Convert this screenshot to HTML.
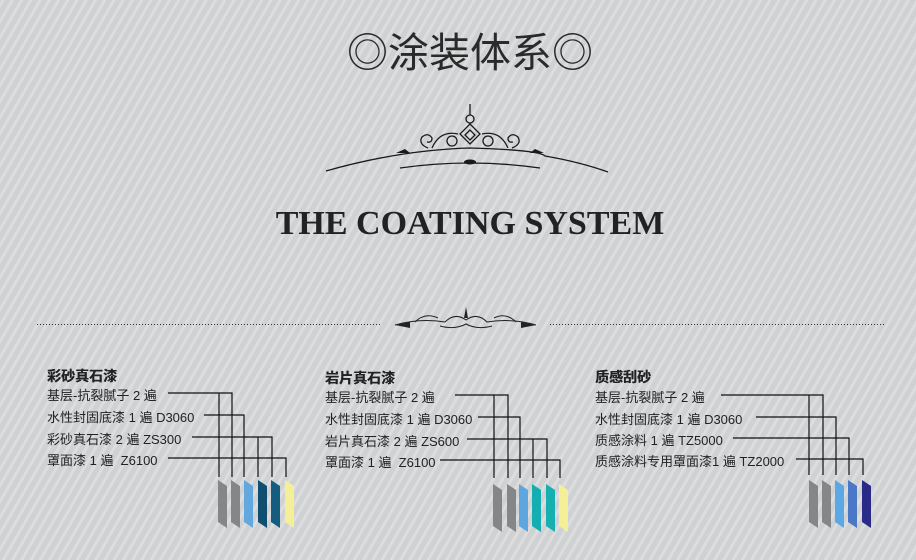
<!DOCTYPE html>
<html><head><meta charset="utf-8"><style>
html,body{margin:0;padding:0}
body{width:916px;height:560px;overflow:hidden;position:relative;
background:#d3d4d6 repeating-linear-gradient(-60deg,#d0d1d3 0px,#d0d1d3 5px,#dcdddf 5px,#dcdddf 8px);
font-family:"Liberation Sans","Noto Sans CJK SC",sans-serif;color:#222}
.t{position:absolute;white-space:nowrap}
.h{font-size:14px;font-weight:bold;text-shadow:0.4px 0 0 #222}
.r{font-size:13px}
</style></head><body>
<div class="t" style="left:12px;width:916px;text-align:center;top:19px;font-size:41px;color:#2a2a2a;font-family:'Liberation Sans','Noto Sans CJK SC',sans-serif;">◎涂装体系◎</div>
<div class="t" style="left:12px;width:916px;text-align:center;top:205px;font-size:34px;font-weight:bold;color:#222;font-family:'Liberation Serif',serif;">THE COATING SYSTEM</div>

<svg width="916" height="560" style="position:absolute;left:0;top:0">
<g fill="none" stroke="#1a1a1a" stroke-width="1.3">
<path d="M326 171 Q400 150 470 148 Q540 150 545 156 Q580 162 608 172"/>
<path d="M400 168 Q470 158 540 168"/>
<circle cx="470" cy="119" r="4"/>
<path d="M470 104 V115"/>
<path d="M470 124 L460 134 L470 144 L480 134 Z"/>
<path d="M470 130 L465 135 L470 140 L475 135 Z"/>
<path d="M428 148 Q418 144 422 137 Q428 132 432 138 Q432 143 427 142"/>
<path d="M512 148 Q522 144 518 137 Q512 132 508 138 Q508 143 513 142"/>
<path d="M432 148 Q440 130 458 134"/>
<path d="M508 148 Q500 130 482 134"/>
<circle cx="452" cy="141" r="5"/><circle cx="488" cy="141" r="5"/>
</g>
<ellipse cx="470" cy="162" rx="6" ry="2.5" fill="#1a1a1a"/>
<path d="M396 153 L405 149 L410 153 Z M544 153 L535 149 L530 153 Z" fill="#1a1a1a"/>

<line x1="37" y1="324.5" x2="381" y2="324.5" stroke="#333" stroke-dasharray="1,2"/>
<line x1="550" y1="324.5" x2="885" y2="324.5" stroke="#333" stroke-dasharray="1,2"/>
<g fill="none" stroke="#222" stroke-width="1">
<path d="M395 325 Q420 318 445 322 Q455 312 466 320 Q477 312 487 322 Q512 318 536 325"/>
<path d="M415 322 Q425 312 438 318 M516 322 Q506 312 494 318 M440 326 Q455 330 466 324 Q477 330 492 326"/>
</g>
<path d="M466 307 L464 318 L468 318 Z M395 325 L410 322 L410 328 Z M536 325 L521 322 L521 328 Z" fill="#222"/>

<g stroke="#111" stroke-width="1.2" fill="none">
<path d="M168 393 H232 V477 M219 393 V477"/>
<path d="M204 415 H244 V477"/>
<path d="M192 437 H272 V477 M258 437 V477"/>
<path d="M168 458 H286 V477"/>
<path d="M455 395 H508 V478 M494 395 V478"/>
<path d="M478 417 H520 V478"/>
<path d="M467 439 H547 V478 M533 439 V478"/>
<path d="M440 460 H560 V478"/>
<path d="M721 395 H823 V475 M809 395 V475"/>
<path d="M756 417 H836 V475"/>
<path d="M733 438 H849 V475"/>
<path d="M796 459 H863 V475"/>
</g>
<g>
<polygon points="218,480 227,486 227,528 218,522" fill="#858688"/>
<polygon points="231,480 240,486 240,528 231,522" fill="#858688"/>
<polygon points="244,480 253,486 253,528 244,522" fill="#62a8de"/>
<polygon points="258,480 267,486 267,528 258,522" fill="#104f70"/>
<polygon points="271,480 280,486 280,528 271,522" fill="#145d80"/>
<polygon points="285,480 294,486 294,528 285,522" fill="#f5ef98"/>

<polygon points="493,484 502,490 502,532 493,526" fill="#858688"/>
<polygon points="507,484 516,490 516,532 507,526" fill="#858688"/>
<polygon points="519,484 528,490 528,532 519,526" fill="#5da6e0"/>
<polygon points="532,484 541,490 541,532 532,526" fill="#12aeb2"/>
<polygon points="546,484 555,490 555,532 546,526" fill="#16b0b0"/>
<polygon points="559,484 568,490 568,532 559,526" fill="#f5ef98"/>

<polygon points="809,480 818,486 818,528 809,522" fill="#858688"/>
<polygon points="822,480 831,486 831,528 822,522" fill="#858688"/>
<polygon points="835,480 844,486 844,528 835,522" fill="#5aa8e6"/>
<polygon points="848,480 857,486 857,528 848,522" fill="#4a78c6"/>
<polygon points="862,480 871,486 871,528 862,522" fill="#2a2a88"/>
</g>
</svg>

<div class="t h" style="left:47px;top:366px">彩砂真石漆</div>
<div class="t r" style="left:47px;top:385px">基层-抗裂腻子 2 遍</div>
<div class="t r" style="left:47px;top:407px">水性封固底漆 1 遍 D3060</div>
<div class="t r" style="left:47px;top:429px">彩砂真石漆 2 遍 ZS300</div>
<div class="t r" style="left:47px;top:450px">罩面漆 1 遍&nbsp; Z6100</div>

<div class="t h" style="left:325px;top:368px">岩片真石漆</div>
<div class="t r" style="left:325px;top:387px">基层-抗裂腻子 2 遍</div>
<div class="t r" style="left:325px;top:409px">水性封固底漆 1 遍 D3060</div>
<div class="t r" style="left:325px;top:431px">岩片真石漆 2 遍 ZS600</div>
<div class="t r" style="left:325px;top:452px">罩面漆 1 遍&nbsp; Z6100</div>

<div class="t h" style="left:595px;top:367px">质感刮砂</div>
<div class="t r" style="left:595px;top:387px">基层-抗裂腻子 2 遍</div>
<div class="t r" style="left:595px;top:409px">水性封固底漆 1 遍 D3060</div>
<div class="t r" style="left:595px;top:430px">质感涂料 1 遍 TZ5000</div>
<div class="t r" style="left:595px;top:451px">质感涂料专用罩面漆1 遍 TZ2000</div>
</body></html>
